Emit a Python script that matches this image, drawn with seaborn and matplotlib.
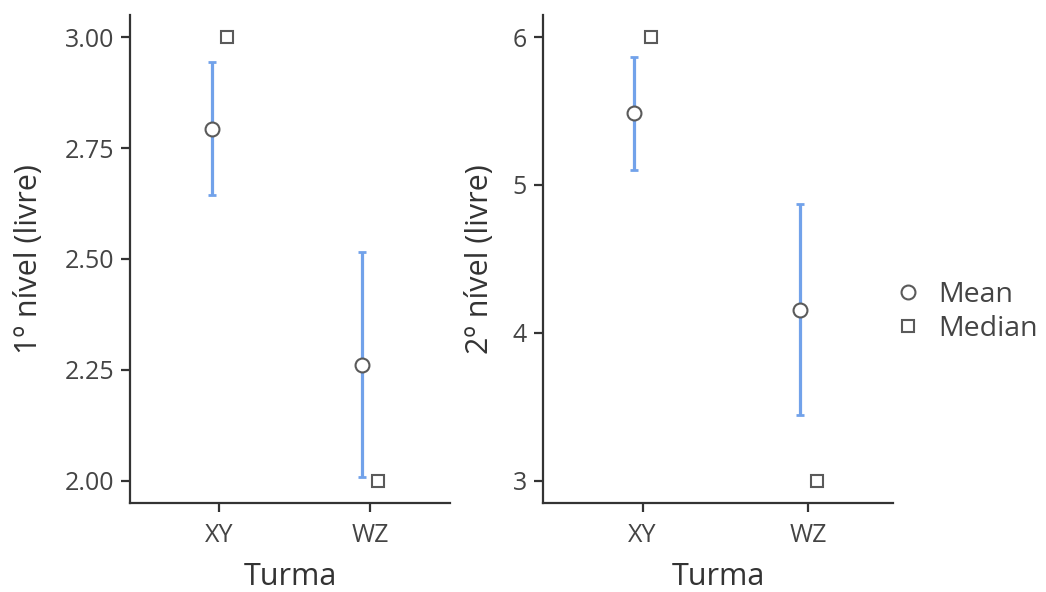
import numpy as np
import pandas as pd
import matplotlib
matplotlib.use("Agg")
import matplotlib.pyplot as plt
from matplotlib.lines import Line2D
from matplotlib.ticker import FormatStrFormatter
import seaborn as sns

# ---- data ----
groups = ["XY", "WZ"]
stats = ["Mean", "Median"]

p1_mean = [2.793, 2.261]
p1_median = [3.00, 2.00]
p1_ci_low = [2.644, 2.009]
p1_ci_high = [2.944, 2.516]

p2_mean = [5.486, 4.155]
p2_median = [6.0, 3.0]
p2_ci_low = [5.101, 3.446]
p2_ci_high = [5.865, 4.872]

ylabel1 = "1º nível (livre)"
ylabel2 = "2º nível (livre)"
xlabel = "Turma"
yticks1 = [2.00, 2.25, 2.50, 2.75, 3.00]
yticks2 = [3, 4, 5, 6]

sns.set_theme(style="ticks")
plt.rcParams["font.family"] = ["Open Sans", "DejaVu Sans"]

fig = plt.figure(figsize=(10.46, 5.92), dpi=100)
ax1 = fig.add_axes([130 / 1046, 1 - 503 / 592, 320 / 1046, 488 / 592])
ax2 = fig.add_axes([543 / 1046, 1 - 503 / 592, 350 / 1046, 488 / 592])

EB = "#72a2ea"
EDGE = "#5a5a5a"
AX = "#333333"


def panel(ax, mean, median, lo, hi, ylab, yticks, ylim, xlim, fmt, ylabpad):
    df = pd.DataFrame({
        "Turma": groups * 2,
        "stat": [stats[0]] * 2 + [stats[1]] * 2,
        "value": list(mean) + list(median),
    })
    # error bars behind markers
    mean_a = np.array(mean)
    pos = np.arange(len(groups)) - 0.05
    ax.errorbar(pos, mean_a, yerr=[mean_a - np.array(lo), np.array(hi) - mean_a],
                fmt="none", ecolor=EB, elinewidth=2.3, capsize=3.0, capthick=2.0,
                zorder=1)
    sns.pointplot(data=df, x="Turma", y="value", hue="stat", order=groups,
                  hue_order=stats, markers=["o", "s"], linestyles="none",
                  dodge=0.1, errorbar=None, palette=[EDGE, EDGE], ax=ax,
                  legend=False)
    for ln in ax.lines:
        if ln.get_marker() in ("o", "s"):
            ln.set_markerfacecolor("white")
            ln.set_markeredgecolor(EDGE)
            ln.set_markeredgewidth(1.5)
            ln.set_markersize(10 if ln.get_marker() == "o" else 9)
            ln.set_zorder(3)
    ax.set_xlim(*xlim)
    ax.set_ylim(*ylim)
    ax.set_yticks(yticks)
    ax.yaxis.set_major_formatter(FormatStrFormatter(fmt))
    ax.set_xlabel(xlabel, fontsize=22, color=AX, labelpad=10)
    ax.set_ylabel(ylab, fontsize=22, color=AX, labelpad=ylabpad)
    sns.despine(ax=ax)
    for s in ("left", "bottom"):
        ax.spines[s].set_color(AX)
        ax.spines[s].set_linewidth(1.6)
    ax.tick_params(axis="both", colors=AX, labelcolor="#444444", labelsize=18,
                   length=6.5, width=1.6)
    ax.tick_params(axis="y", pad=5)
    ax.tick_params(axis="x", pad=8)


panel(ax1, p1_mean, p1_median, p1_ci_low, p1_ci_high, ylabel1, yticks1,
      (1.95, 3.05), (-0.59, 1.53), "%.2f", 15)
panel(ax2, p2_mean, p2_median, p2_ci_low, p2_ci_high, ylabel2, yticks2,
      (2.85, 6.149), (-0.6, 1.51), "%d", 13)

handles = [
    Line2D([], [], marker="o", linestyle="none", markerfacecolor="white",
           markeredgecolor=EDGE, markeredgewidth=1.5, markersize=10),
    Line2D([], [], marker="s", linestyle="none", markerfacecolor="white",
           markeredgecolor=EDGE, markeredgewidth=1.5, markersize=9),
]
leg = fig.legend(handles, stats, loc="center left", bbox_to_anchor=(880 / 1046, 1 - 312 / 592),
                 frameon=False, fontsize=20.5, handletextpad=0.45, labelspacing=0.22,
                 handlelength=1.2, borderaxespad=0)
for t in leg.get_texts():
    t.set_color("#444444")

fig.savefig("out.png", dpi=100)
